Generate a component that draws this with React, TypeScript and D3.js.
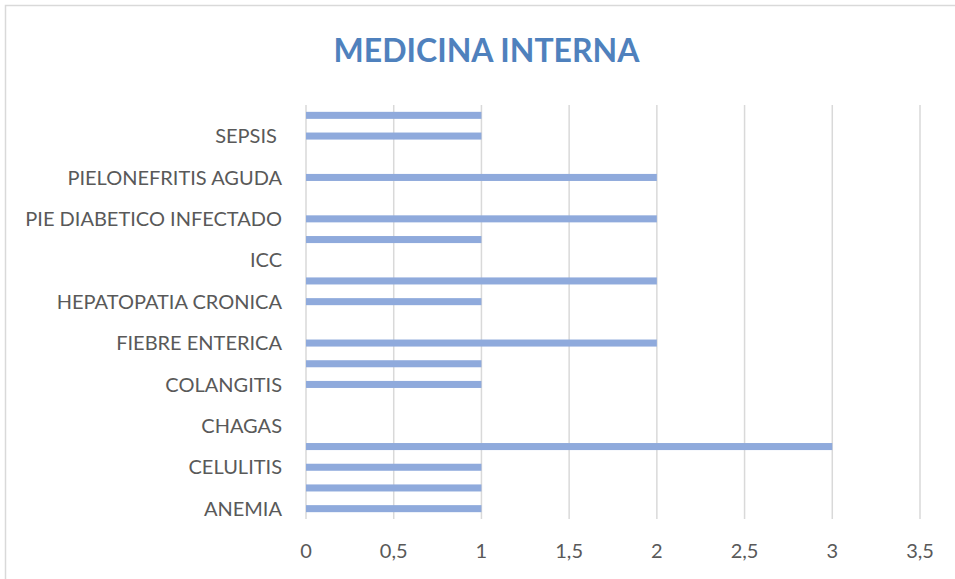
import React from "react";
import * as d3 from "d3";

const categories = [
  "ANEMIA",
  "BRONCONEUMONIA",
  "CELULITIS",
  "CETOACIDOSIS DIABETICA",
  "CHAGAS",
  "CIRROSIS HEPATICA",
  "COLANGITIS",
  "DENGUE",
  "FIEBRE ENTERICA",
  "HEMORRAGIA DIGESTIVA",
  "HEPATOPATIA CRONICA",
  "HTA",
  "ICC",
  "NEUMONIA",
  "PIE DIABETICO INFECTADO",
  "PIE DIABETICO NO INFECTADO",
  "PIELONEFRITIS AGUDA",
  "SANGRADO DIGESTIVO",
  "SEPSIS ",
  "TUBERCULOSIS",
];
const values = [1, 1, 1, 3, 0, 0, 1, 1, 2, 0, 1, 2, 0, 1, 2, 0, 2, 0, 1, 1];
const xTicks = [0, 0.5, 1, 1.5, 2, 2.5, 3, 3.5];
const title = "MEDICINA INTERNA";

const W = 955;
const H = 579;
const left = 306;
const right = 920;
const top = 105;
const bottom = 519;

export default function App() {
  const x = d3.scaleLinear().domain([0, 3.5]).range([left, right]);
  const y = d3
    .scaleBand<string>()
    .domain(categories)
    .range([bottom, top])
    .paddingInner(0.66)
    .paddingOuter(0.33);
  const fmt = (v: number) => String(v).replace(".", ",");
  const font = "Lato, 'Open Sans', sans-serif";
  return (
    <svg
      width={W}
      height={H}
      style={{ position: "absolute", left: 0, top: 0, background: "#fff" }}
    >
      <rect x={5.5} y={5.5} width={W + 10} height={H + 10} fill="#fff" stroke="#d9d9d9" strokeWidth={1.5} />
      <text
        x={486.5}
        y={62}
        textAnchor="middle"
        fontFamily={font}
        fontWeight="bold"
        fontSize={32}
        fill="#4f81bd"
      >
        {title}
      </text>
      {xTicks.map((t) => (
        <line
          key={"g" + t}
          x1={x(t)}
          x2={x(t)}
          y1={top}
          y2={bottom}
          stroke="#d9d9d9"
          strokeWidth={1.5}
        />
      ))}
      {categories.map((c, i) =>
        values[i] > 0 ? (
          <rect
            key={"b" + i}
            x={x(0)}
            y={y(c)!}
            width={x(values[i]) - x(0)}
            height={y.bandwidth()}
            fill="#8faadc"
          />
        ) : null
      )}
      {categories.map((c, i) =>
        i % 2 === 0 ? (
          <text
            key={"l" + i}
            x={282}
            y={y(c)! + y.bandwidth() / 2}
            dy="0.36em"
            textAnchor="end"
            fontFamily={font}
            fontSize={20}
            fill="#595959"
            style={{ whiteSpace: "pre" }}
          >
            {c}
          </text>
        ) : null
      )}
      {xTicks.map((t) => (
        <text
          key={"t" + t}
          x={x(t)}
          y={558}
          textAnchor="middle"
          fontFamily={font}
          fontSize={20}
          fill="#595959"
        >
          {fmt(t)}
        </text>
      ))}
    </svg>
  );
}
